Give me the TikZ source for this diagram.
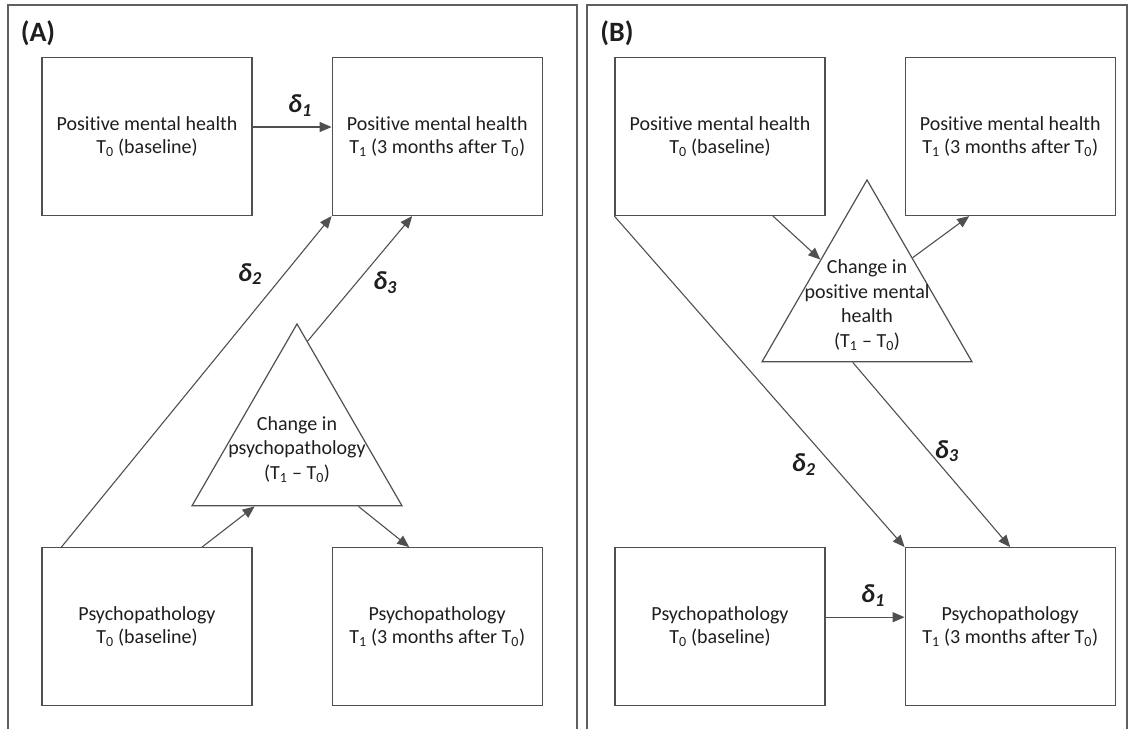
\documentclass[tikz,border=0pt]{standalone}
\usepackage{fontspec}
\setmainfont{Carlito}[Ligatures=NoCommon]
\usetikzlibrary{arrows.meta,shapes.geometric,positioning,calc}
\definecolor{figline}  {RGB}{80,80,80}
\definecolor{figframe} {RGB}{95,95,95}
\definecolor{figtext}  {RGB}{30,30,30}
\newcommand{\Tz}{T\textsubscript{0}}
\newcommand{\To}{T\textsubscript{1}}
\newcommand{\dlt}[1]{\textbf{\textit{δ\textsubscript{#1}}}}

\begin{document}
\begin{tikzpicture}[
    x=1pt,y=-1pt,
    >={Triangle[length=12pt,width=10pt]},
    box/.style={draw=figline,line width=1.2pt,
                minimum width=210pt,minimum height=158pt,inner sep=0pt,
                font=\fontsize{20}{23}\selectfont,text=figtext,align=center},
    tri/.style={draw=figline,line width=1.2pt,regular polygon,
                regular polygon sides=3,minimum size=242.5pt,inner sep=0pt},
    tritext/.style={font=\fontsize{20}{24.5}\selectfont,text=figtext,
                    align=center},
    arr/.style={->,line width=1.1pt,figline},
    dl/.style={font=\fontsize{26}{28}\selectfont,text=figtext,inner sep=0pt},
    panel/.style={draw=figframe,line width=1.6pt},
    tag/.style={font=\bfseries\fontsize{28}{30}\selectfont,text=figtext},
  ]
  \useasboundingbox (0,0) rectangle (1134,729);

  %% Panel frames
  \draw[panel] (8,729) -- (8,5) -- (577,5) -- (577,729);
  \draw[panel] (587,729) -- (587,5) -- (1127,5) -- (1127,729);
  \node[tag] (tagA) at (38,33) {(A)};
  \node[tag] (tagB) at (617,33) {(B)};

  %% Panel A boxes
  \node[box] (pmhA0) at (147,136.5) {Positive mental health\\\Tz{} (baseline)};
  \node[box] (pmhA1) [right=79pt of pmhA0]
    {Positive mental health\\\To{} (3 months after \Tz)};
  \node[box] (ppA0) [below=331pt of pmhA0] {Psychopathology\\\Tz{} (baseline)};
  \node[box] (ppA1) [below=331pt of pmhA1]
    {Psychopathology\\\To{} (3 months after \Tz)};

  %% Panel A change
  \node[tri] (triA) at (297,445.2) {};
  \node[tritext] (triAtext) at ([yshift=-4pt]triA.center)
    {Change in\\psychopathology\\(\To{} – \Tz)};

  %% Panel B boxes
  \node[box] (pmhB0) at (720,136.5) {Positive mental health\\\Tz{} (baseline)};
  \node[box] (pmhB1) [right=79pt of pmhB0]
    {Positive mental health\\\To{} (3 months after \Tz)};
  \node[box] (ppB0) [below=331pt of pmhB0] {Psychopathology\\\Tz{} (baseline)};
  \node[box] (ppB1) [below=331pt of pmhB1]
    {Psychopathology\\\To{} (3 months after \Tz)};

  %% Panel B change
  \node[tri] (triB) at (867,301.2) {};
  \node[tritext] (triBtext) at ([yshift=-4pt]triB.center)
    {Change in\\positive mental\\health\\(\To{} – \Tz)};

  %% A: paths
  \draw[arr] ([yshift=9.5pt]pmhA0.east) --
    node[dl,above=10pt,pos=0.6]{\dlt{1}} ([yshift=9.5pt]pmhA1.west);
  \draw[arr] ([xshift=20pt]ppA0.north west) --
    node[dl,pos=0.825,left=22pt]{\dlt{2}} (pmhA1.south west);
  \draw[arr] ([xshift=55pt]ppA0.north) -- ($(triA.corner 2)!0.3!(triA.corner 3)$);
  \draw[arr] ($(triA.corner 2)!0.79!(triA.corner 3)$) -- ([xshift=-28pt]ppA1.north);
  \draw[arr] ($(triA.corner 1)!0.1!(triA.corner 3)$) --
    node[dl,pos=0.47,right=16pt]{\dlt{3}} ([xshift=-25pt]pmhA1.south);

  %% B: paths
  \draw[arr] ([xshift=53pt]pmhB0.south) -- ($(triB.corner 1)!0.44!(triB.corner 2)$);
  \draw[arr] ($(triB.corner 1)!0.43!(triB.corner 3)$) -- ([xshift=-41pt]pmhB1.south);
  \draw[arr] (pmhB0.south west) --
    node[dl,pos=0.75,left=16pt]{\dlt{2}} (ppB1.north west);
  \draw[arr] ($(triB.corner 2)!0.433!(triB.corner 3)$) --
    node[dl,pos=0.48,right=6pt]{\dlt{3}} (ppB1.north);
  \draw[arr] ([yshift=9.5pt]ppB0.east) --
    node[dl,above=10pt,pos=0.6]{\dlt{1}} ([yshift=9.5pt]ppB1.west);
\end{tikzpicture}
\end{document}
